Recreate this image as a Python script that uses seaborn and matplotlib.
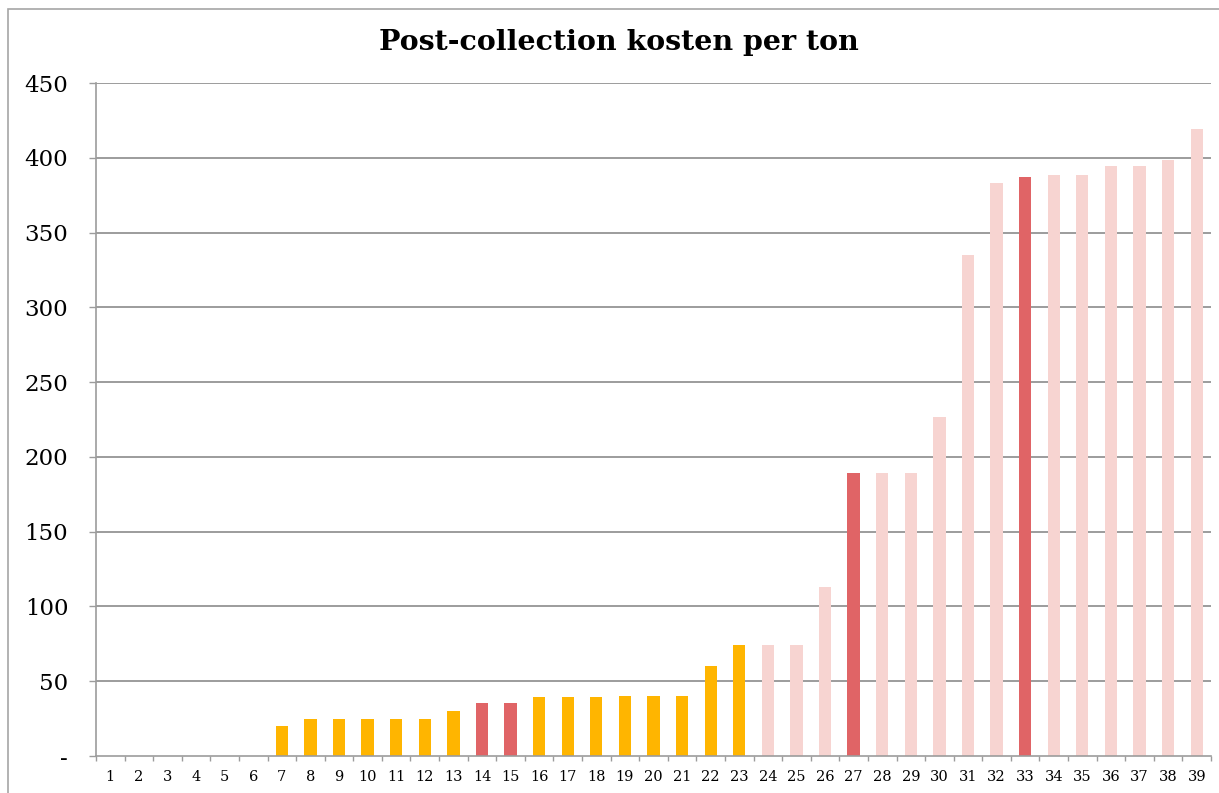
import numpy as np
import pandas as pd
import matplotlib
matplotlib.use("Agg")
import matplotlib.pyplot as plt
from matplotlib.patches import Rectangle
from matplotlib.ticker import FixedLocator, FuncFormatter
import seaborn as sns

# Post-collection costs per ton for each municipality (1..39)
labels = [str(i) for i in range(1, 40)]
costs = [0, 0, 0, 0, 0, 0, 20, 25, 25, 25, 25, 25, 30, 35.5, 35.5,
         39.5, 39.5, 39.5, 40, 40, 40, 60, 74, 74, 74, 113, 189, 189, 189,
         227, 335, 383, 387, 388.5, 388.5, 394.5, 394.5, 398.5, 419]
# group per bar: "a" = orange, "h" = highlighted red, "p" = pale
groups = (["a"] * 13 + ["h", "h"] + ["a"] * 8 + ["p"] * 3 + ["h"]
          + ["p"] * 5 + ["h"] + ["p"] * 6)

colors = {"a": "#FFB500", "h": "#E06466", "p": "#F7D4D1"}
title = "Post-collection kosten per ton"

df = pd.DataFrame({"label": labels, "cost": costs, "group": groups})

sns.set_theme(style="white")
plt.rcParams["font.family"] = ["DejaVu Serif"]

fig = plt.figure(figsize=(12.19, 7.93), dpi=100)
ax = fig.add_axes([96 / 1219, 1 - 756 / 793, (1211 - 96) / 1219, (756 - 83) / 793])

sns.barplot(data=df, x="label", y="cost", hue="group", palette=colors,
            dodge=False, width=0.43, legend=False, ax=ax, saturation=1,
            linewidth=0, edgecolor="none")

ax.set_xlim(-0.5, len(labels) - 0.5)
ax.set_ylim(0, 450)
ax.set_xlabel("")
ax.set_ylabel("")

grid_c = "#9c9c9c"
ax.set_yticks(np.arange(0, 451, 50))
ax.yaxis.set_major_formatter(FuncFormatter(lambda v, p: "-" if v == 0 else f"{int(v)}"))
ax.grid(False)
for v in range(50, 451, 50):
    ax.axhline(v, color=grid_c, lw=1.4, zorder=0)

ax.tick_params(axis="y", length=5, width=1, color=grid_c, labelsize=16.5,
               pad=15, left=True, direction="out", labelcolor="black")
ax.xaxis.set_minor_locator(FixedLocator(np.arange(-0.5, len(labels), 1.0)))
ax.tick_params(axis="x", which="major", length=0, labelsize=10.5, pad=10,
               labelcolor="black")
ax.tick_params(axis="x", which="minor", length=3.6, width=1, color=grid_c,
               bottom=True, direction="out")

for s in ["top", "right"]:
    ax.spines[s].set_visible(False)
for s in ["left", "bottom"]:
    ax.spines[s].set_visible(True)
    ax.spines[s].set_color(grid_c)
    ax.spines[s].set_linewidth(1.2)
for b in ax.patches:
    b.set_zorder(2)

fig.text(0.508, 1 - 42 / 793, title, ha="center", va="center",
         fontsize=20.5, fontweight="bold", color="black")

# outer chart frame
fig.patches.append(Rectangle((8 / 1219, -0.1), 1.2, 1 - 9 / 793 + 0.1,
                             transform=fig.transFigure, fill=False,
                             edgecolor="#a6a6a6", lw=1.2, clip_on=False))

fig.savefig("out.png", dpi=100)
